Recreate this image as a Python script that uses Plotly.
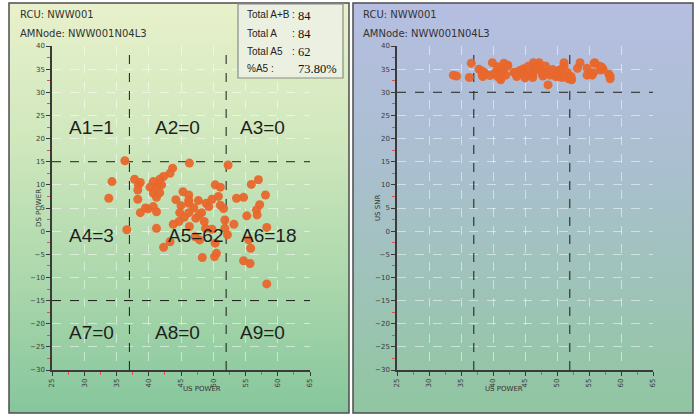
import base64
import math
import plotly.graph_objects as go

W, H = 696, 416

# ---------------- data ----------------
rcu_name = "NWW001"
amnode_name = "NWW001N04L3"

us_power = [36.3, 46.3, 52.3, 34.3, 33.8, 43.3, 43.7, 37.8, 38.4, 38.7,
            38.3, 40.7, 41.7, 41.2, 42.0, 41.7, 40.7, 41.2, 38.3, 38.7,
            39.9, 40.7, 41.2, 45.3, 46.2, 46.2, 46.2, 47.7, 48.9, 49.8,
            50.3, 51.1, 51.1, 51.6, 44.8, 44.7, 46.2, 47.3, 48.2, 48.6,
            48.8, 49.8, 46.3, 47.2, 47.9, 50.3, 50.5, 50.2, 48.3, 42.3,
            43.3, 41.2, 36.6, 51.8, 51.8, 52.2, 53.2, 53.6, 54.7, 55.9,
            57.0, 58.1, 57.2, 56.7, 56.8, 55.2, 58.3, 55.8, 55.5, 54.7,
            55.7, 58.3, 41.5, 42.3, 39.5, 44.2, 45.0, 47.0, 47.8, 49.3,
            45.5, 43.8, 50.8, 40.2]

ds_power = [15.2, 14.7, 14.3, 10.7, 7.1, 12.5, 13.6, 11.2, 10.0, 10.5,
            8.9, 10.7, 11.2, 9.6, 10.0, 8.3, 8.2, 7.3, 6.9, 4.0,
            4.8, 5.3, 4.2, 8.5, 7.8, 6.7, 6.0, 6.6, 6.0, 6.9,
            10.0, 9.5, 5.6, 4.9, 4.0, 2.1, 4.0, 2.8, 4.0, 2.1,
            0.6, 0.4, 1.0, -1.2, -1.9, -2.6, -4.8, -5.5, -5.7, -3.5,
            -2.3, 0.6, 0.3, 2.4, 0.6, -0.8, 1.5, 7.1, 7.3, 10.1,
            11.1, 7.8, 5.7, 4.6, 3.5, 3.3, 0.8, -3.7, -1.9, -6.4,
            -7.0, -11.4, 10.4, 11.8, 5.0, 6.8, 5.5, 5.0, 3.5, 5.3,
            3.0, 1.5, 7.5, 9.5]

us_snr = [33.2, 36.4, 32.7, 33.5, 33.7, 34.3, 33.4, 35.0, 33.4, 34.0,
          34.6, 34.8, 36.3, 33.9, 33.7, 35.2, 33.4, 32.7, 33.8, 34.2,
          36.4, 35.5, 34.4, 33.7, 34.8, 33.7, 35.3, 34.0, 33.7, 33.4,
          34.8, 35.7, 36.4, 34.3, 35.1, 34.2, 33.2, 35.7, 35.7, 31.6,
          34.5, 34.0, 34.5, 36.4, 34.0, 33.4, 34.8, 33.9, 34.3, 35.7,
          34.3, 33.0, 36.3, 33.5, 32.9, 33.4, 35.2, 36.4, 35.2, 36.4,
          35.4, 33.9, 35.0, 35.6, 34.8, 34.0, 33.5, 36.3, 33.7, 33.7,
          34.2, 32.9, 34.6, 35.9, 33.6, 34.7, 33.1, 35.0, 33.5, 34.9,
          35.6, 33.8, 33.2, 34.1]

x_tick_values = [25, 30, 35, 40, 45, 50, 55, 60, 65]
y_tick_values = [40, 35, 30, 25, 20, 15, 10, 5, 0, -5, -10, -15, -20, -25, -30]

us_low, us_high = 37, 52      # US power thresholds
ds_low, ds_high = -15, 15     # DS power thresholds
snr_limit = 30                # US SNR threshold

# ---------------- derived counts ----------------
counts = [0] * 9
for xv, yv in zip(us_power, ds_power):
    col = 0 if xv < us_low else (1 if xv < us_high else 2)
    row = 0 if yv > ds_high else (1 if yv > ds_low else 2)
    counts[row * 3 + col] += 1
total_ab = len(us_power)
total_a = sum(counts)
total_a5 = counts[4]
pct_a5 = math.floor(total_a5 / total_a * 10000) / 100

# ---------------- helpers ----------------
def px(x):
    return x / W

def py(y):
    return 1 - y / H

def grad_src(stops):
    s = ('<svg xmlns="http://www.w3.org/2000/svg" width="100" height="100" '
         'viewBox="0 0 100 100" preserveAspectRatio="none"><defs>'
         '<linearGradient id="g" x1="0" y1="0" x2="0" y2="1">'
         + ''.join(f'<stop offset="{o}" stop-color="{c}"/>' for o, c in stops)
         + '</linearGradient></defs><rect width="100" height="100" fill="url(#g)"/></svg>')
    return "data:image/svg+xml;base64," + base64.b64encode(s.encode()).decode()

ORANGE = "#E8672C"
TICKFONT = dict(family="DejaVu Sans", size=7, color="#3a3a3a")

# panel rectangles (px)
L_PANEL = (9, 3, 349, 413)
R_PANEL = (353, 3, 693, 413)
# plot areas (px)
L_PLOT = (52, 46, 310, 370)
R_PLOT = (397, 46, 653, 370)

fig = go.Figure()
fig.add_trace(go.Scatter(x=us_power, y=ds_power, mode="markers",
                         marker=dict(color=ORANGE, size=9, opacity=0.95, line=dict(width=0)),
                         xaxis="x", yaxis="y", hoverinfo="x+y"))
fig.add_trace(go.Scatter(x=us_power, y=us_snr, mode="markers",
                         marker=dict(color=ORANGE, size=9, opacity=0.95, line=dict(width=0)),
                         xaxis="x2", yaxis="y2", hoverinfo="x+y"))

def xaxis_style(plot):
    return dict(domain=[px(plot[0]), px(plot[2])], range=[25, 65], automargin=False,
                tickvals=x_tick_values, tickangle=-90, tickfont=TICKFONT,
                showline=True, linecolor="#3a3a3a", linewidth=1.5,
                ticks="outside", ticklen=4, tickcolor="#3a3a3a",
                showgrid=True, gridcolor="rgba(255,255,255,0.5)", griddash="dash", gridwidth=1,
                zeroline=False, fixedrange=True,
                minor=dict(ticks="outside", ticklen=3, tickcolor="#d9534f",
                           tick0=27.5, dtick=5, showgrid=False))

def yaxis_style(plot):
    return dict(domain=[py(plot[3]), py(plot[1])], range=[-30, 40], automargin=False,
                tickvals=y_tick_values, tickfont=TICKFONT,
                showline=True, linecolor="#3a3a3a", linewidth=1.5,
                ticks="outside", ticklen=4, tickcolor="#3a3a3a",
                showgrid=True, gridcolor="rgba(255,255,255,0.5)", griddash="dash", gridwidth=1,
                zeroline=False, fixedrange=True,
                minor=dict(ticks="outside", ticklen=3, tickcolor="#d9534f",
                           tick0=2.5, dtick=5, showgrid=False))

xa2 = xaxis_style(R_PLOT); xa2["anchor"] = "y2"
ya2 = yaxis_style(R_PLOT); ya2["anchor"] = "x2"
xa1 = xaxis_style(L_PLOT); xa1["anchor"] = "y"
ya1 = yaxis_style(L_PLOT); ya1["anchor"] = "x"

shapes = []
# threshold lines
dash = dict(color="#1a1a1a", width=1, dash="dash")
for yv in (ds_high, ds_low):
    shapes.append(dict(type="line", xref="x", yref="y", x0=25, x1=65, y0=yv, y1=yv, line=dash, layer="between"))
for xv in (us_low, us_high):
    shapes.append(dict(type="line", xref="x", yref="y", x0=xv, x1=xv, y0=-30, y1=40, line=dash, layer="between"))
    shapes.append(dict(type="line", xref="x2", yref="y2", x0=xv, x1=xv, y0=-30, y1=40, line=dash, layer="between"))
shapes.append(dict(type="line", xref="x2", yref="y2", x0=25, x1=65, y0=snr_limit, y1=snr_limit, line=dash, layer="between"))
# panel borders
for p in (L_PANEL, R_PANEL):
    shapes.append(dict(type="rect", xref="paper", yref="paper", x0=px(p[0]), x1=px(p[2]),
                       y0=py(p[3]), y1=py(p[1]), line=dict(color="#4d4d4d", width=1.5),
                       fillcolor="rgba(0,0,0,0)", layer="above"))
# stats box
shapes.append(dict(type="rect", xref="paper", yref="paper", x0=px(238), x1=px(343),
                   y0=py(78), y1=py(4), line=dict(color="#8a8a8a", width=1.2),
                   fillcolor="rgba(236,240,226,0.92)", layer="above"))

images = [
    dict(source=grad_src([(0, "#e8f1cb"), (0.35, "#cfe7bc"), (0.7, "#a9d6ab"), (1, "#86c69c")]),
         xref="paper", yref="paper", x=px(L_PANEL[0]), y=py(L_PANEL[1]),
         sizex=px(L_PANEL[2] - L_PANEL[0]), sizey=(L_PANEL[3] - L_PANEL[1]) / H,
         sizing="stretch", layer="below", xanchor="left", yanchor="top"),
    dict(source=grad_src([(0, "#b6bee2"), (0.4, "#aabfcf"), (0.75, "#9cc4b4"), (1, "#90c6a0")]),
         xref="paper", yref="paper", x=px(R_PANEL[0]), y=py(R_PANEL[1]),
         sizex=px(R_PANEL[2] - R_PANEL[0]), sizey=(R_PANEL[3] - R_PANEL[1]) / H,
         sizing="stretch", layer="below", xanchor="left", yanchor="top"),
]

ann = []
HDR = dict(family="DejaVu Sans", size=10, color="#333333")
for x0 in (18, 361):
    ann.append(dict(x=px(x0), y=py(15), xref="paper", yref="paper", text=f"RCU: {rcu_name}",
                    showarrow=False, xanchor="left", yanchor="middle", font=HDR))
    ann.append(dict(x=px(x0), y=py(33), xref="paper", yref="paper", text=f"AMNode: {amnode_name}",
                    showarrow=False, xanchor="left", yanchor="middle", font=HDR))

# axis titles
TITLEFONT = dict(family="DejaVu Sans", size=7, color="#333333")
ann.append(dict(x=px(33), y=py(208), xref="paper", yref="paper", text="DS POWER", textangle=-90,
                showarrow=False, font=TITLEFONT))
ann.append(dict(x=px(378), y=py(208), xref="paper", yref="paper", text="US SNR", textangle=-90,
                showarrow=False, font=TITLEFONT))
ann.append(dict(x=px(181), y=py(395), xref="paper", yref="paper", text="US POWER",
                showarrow=False, font=TITLEFONT))
ann.append(dict(x=px(525), y=py(395), xref="paper", yref="paper", text="US POWER",
                showarrow=False, font=TITLEFONT))

# region labels
REGFONT = dict(family="Liberation Sans", size=19, color="#1e1e1e")
label_x = [31.2, 44.5, 57.6]
label_y = [22.3, -1.0, -22.0]
for i in range(9):
    r, c = divmod(i, 3)
    lx = label_x[c]
    if i == 4:
        lx = 47.2
    if i == 5:
        lx = 58.5
    ann.append(dict(x=lx, y=label_y[r], xref="x", yref="y", text=f"A{i+1}={counts[i]}",
                    showarrow=False, font=REGFONT))

# stats box text
LBL = dict(family="Liberation Sans", size=10, color="#222222")
VAL = dict(family="Liberation Serif", size=12.5, color="#111111")
stats = [("Total A+B", total_ab, 15), ("Total A", total_a, 33), ("Total A5", total_a5, 51)]
for name, v, yy in stats:
    ann.append(dict(x=px(245), y=py(yy), xref="paper", yref="paper", text=name, showarrow=False,
                    xanchor="left", yanchor="middle", font=LBL))
    ann.append(dict(x=px(293), y=py(yy), xref="paper", yref="paper", text=":", showarrow=False,
                    xanchor="center", yanchor="middle", font=LBL))
    ann.append(dict(x=px(296), y=py(yy + 1), xref="paper", yref="paper", text=str(v), showarrow=False,
                    xanchor="left", yanchor="middle", font=VAL))
ann.append(dict(x=px(245), y=py(69), xref="paper", yref="paper", text="%A5 :", showarrow=False,
                xanchor="left", yanchor="middle", font=LBL))
ann.append(dict(x=px(339), y=py(69), xref="paper", yref="paper", text=f"{pct_a5:.2f}%", showarrow=False,
                xanchor="right", yanchor="middle", font=VAL))

fig.update_layout(
    width=W, height=H, margin=dict(l=0, r=0, t=0, b=0, autoexpand=False),
    paper_bgcolor="#ffffff", plot_bgcolor="rgba(0,0,0,0)",
    showlegend=False,
    xaxis=xa1, yaxis=ya1, xaxis2=xa2, yaxis2=ya2,
    shapes=shapes, images=images, annotations=ann,
)

fig.write_html("out.html", config={"displayModeBar": False},
               post_script="document.body.style.margin='0';document.body.style.padding='0';")
